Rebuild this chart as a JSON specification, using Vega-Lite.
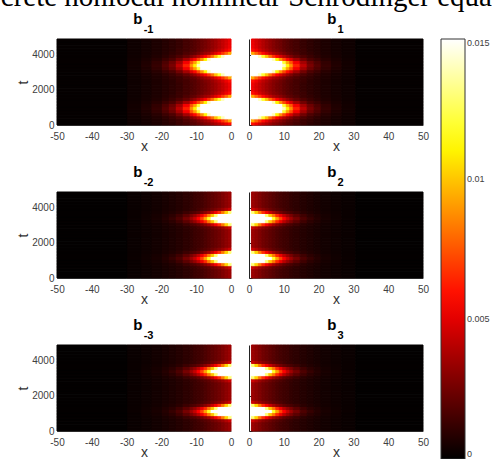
{
  "$schema": "https://vega.github.io/schema/vega-lite/v6.json",
  "background": "white",
  "padding": {"left": 0, "top": -18, "right": 0, "bottom": -1},
  "autosize": {"type": "pad"},
  "title": {"text": "crete nonlocal nonlinear Schrödinger equa", "font": "Liberation Serif", "fontSize": 29, "fontWeight": "normal", "color": "black", "anchor": "start", "frame": "bounds", "offset": 0, "dx": -16},
  "config": {
    "view": {"stroke": null},
    "title": {"font": "Liberation Sans", "fontSize": 15, "fontWeight": "bold", "color": "black", "offset": 0, "subtitleFont": "Liberation Sans", "subtitleFontSize": 11, "subtitleFontWeight": "bold", "subtitleColor": "black", "subtitlePadding": -3},
    "axis": {"grid": false, "ticks": false, "labelFont": "Liberation Sans", "labelFontSize": 10, "labelColor": "#404040", "labelFlush": false, "labelPadding": 3, "titleFont": "Liberation Sans", "titleFontSize": 14, "titleFontWeight": "normal", "titleColor": "#333333", "domainColor": "#555555", "zindex": 1},
    "axisX": {"labelPadding": 6, "titlePadding": -2},
    "axisY": {"titlePadding": 1},
    "legend": {"gradientVerticalMaxLength": 500}
  },
  "datasets": {
    "panels": [
      {"p": "b-1", "s": "L"}, {"p": "b1", "s": "R"},
      {"p": "b-2", "s": "L"}, {"p": "b2", "s": "R"},
      {"p": "b-3", "s": "L"}, {"p": "b3", "s": "R"}
    ],
    "edges": [
      {"s": "L", "x": [0,-1,-2,-3,-4,-5,-6,-7,-8,-9,-10,-11,-12,-14,-16,-18,-20,-23,-26,-30], "x2": [-1,-2,-3,-4,-5,-6,-7,-8,-9,-10,-11,-12,-14,-16,-18,-20,-23,-26,-30,-50]},
      {"s": "R", "x": [0.7,1.7,2.7,3.7,4.7,5.7,6.7,7.7,8.7,9.7,10.7,11.7,12.7,14.7,16.7,18.7,20.7,23.7,26.7,30.7], "x2": [1.7,2.7,3.7,4.7,5.7,6.7,7.7,8.7,9.7,10.7,11.7,12.7,14.7,16.7,18.7,20.7,23.7,26.7,30.7,50]}
    ],
    "profiles": [
      {"q": "a0", "v": [0.0052,0.0047,0.0043,0.0039,0.0035,0.0032,0.0029,0.0026,0.0024,0.0021,0.0019,0.0017,0.0015,0.0012,0.001,0.00082,0.00064,0.00047,0.00033,0.0001]},
      {"q": "a1", "v": [0.0053,0.0048,0.0043,0.0039,0.0035,0.0032,0.0029,0.0026,0.0024,0.0021,0.0019,0.0017,0.0015,0.0012,0.001,0.00082,0.00064,0.00047,0.00033,0.0001]},
      {"q": "a2", "v": [0.0059,0.0053,0.0047,0.0042,0.0038,0.0034,0.003,0.0028,0.0025,0.0022,0.0019,0.0018,0.0015,0.0013,0.001,0.00083,0.00064,0.00047,0.00033,0.0001]},
      {"q": "a3", "v": [0.0093,0.0079,0.0068,0.0058,0.005,0.0043,0.0037,0.0034,0.003,0.0026,0.0022,0.002,0.0017,0.0013,0.0011,0.00086,0.00066,0.00048,0.00033,0.0001]},
      {"q": "a4", "v": [0.022,0.018,0.014,0.012,0.0099,0.0081,0.0067,0.0056,0.0047,0.004,0.0033,0.0028,0.0022,0.0017,0.0013,0.00099,0.00073,0.00051,0.00035,0.0001]},
      {"q": "a5", "v": [0.054,0.042,0.033,0.026,0.021,0.017,0.014,0.011,0.0089,0.0072,0.0058,0.0048,0.0036,0.0025,0.0017,0.0013,0.00089,0.00059,0.00038,0.0001]},
      {"q": "a6", "v": [0.095,0.074,0.058,0.046,0.036,0.028,0.022,0.018,0.015,0.012,0.0092,0.0075,0.0054,0.0036,0.0024,0.0017,0.0011,0.00069,0.00042,0.0001]},
      {"q": "a7", "v": [0.115,0.09,0.071,0.056,0.044,0.034,0.027,0.022,0.017,0.014,0.011,0.0088,0.0063,0.0042,0.0027,0.0019,0.0012,0.00074,0.00044,0.0001]},
      {"q": "b0", "v": [0.0034,0.0031,0.0028,0.0025,0.0023,0.0021,0.0019,0.0017,0.0015,0.0014,0.0013,0.0011,0.00098,0.0008,0.00066,0.00054,0.00042,0.00031,0.00022,0.00007]},
      {"q": "b1", "v": [0.0045,0.0039,0.0034,0.003,0.0027,0.0024,0.0021,0.0019,0.0017,0.0015,0.0013,0.0012,0.001,0.00082,0.00067,0.00055,0.00042,0.00031,0.00022,0.00007]},
      {"q": "b2", "v": [0.013,0.0103,0.0083,0.0066,0.0054,0.0044,0.0036,0.003,0.0025,0.0021,0.0018,0.0016,0.0013,0.00095,0.00075,0.00059,0.00044,0.00032,0.00022,0.00007]},
      {"q": "b3", "v": [0.039,0.03,0.023,0.017,0.013,0.01,0.0083,0.0065,0.0052,0.0041,0.0033,0.0027,0.002,0.0014,0.00098,0.00072,0.00051,0.00035,0.00023,0.00007]},
      {"q": "b4", "v": [0.058,0.044,0.034,0.026,0.02,0.015,0.0118,0.0092,0.0071,0.0056,0.0044,0.0035,0.0026,0.0017,0.0012,0.00082,0.00056,0.00037,0.00024,0.00007]}
    ],
    "rows": [
      {"t": 0, "t2": 175, "q": "a2", "ps": ["b-1","b1"]},
      {"t": 175, "t2": 350, "q": "a3", "ps": ["b-1","b1"]},
      {"t": 350, "t2": 525, "q": "a4", "ps": ["b-1","b1"]},
      {"t": 525, "t2": 700, "q": "a5", "ps": ["b-1","b1"]},
      {"t": 700, "t2": 875, "q": "a6", "ps": ["b-1","b1"]},
      {"t": 875, "t2": 1050, "q": "a7", "ps": ["b-1","b1"]},
      {"t": 1050, "t2": 1225, "q": "a6", "ps": ["b-1","b1"]},
      {"t": 1225, "t2": 1400, "q": "a5", "ps": ["b-1","b1"]},
      {"t": 1400, "t2": 1575, "q": "a4", "ps": ["b-1","b1"]},
      {"t": 1575, "t2": 1750, "q": "a3", "ps": ["b-1","b1"]},
      {"t": 1750, "t2": 1925, "q": "a2", "ps": ["b-1","b1"]},
      {"t": 1925, "t2": 2100, "q": "a1", "ps": ["b-1","b1"]},
      {"t": 2100, "t2": 2275, "q": "a0", "ps": ["b-1","b1"]},
      {"t": 2275, "t2": 2450, "q": "a1", "ps": ["b-1","b1"]},
      {"t": 2450, "t2": 2625, "q": "a2", "ps": ["b-1","b1"]},
      {"t": 2625, "t2": 2800, "q": "a3", "ps": ["b-1","b1"]},
      {"t": 2800, "t2": 2975, "q": "a4", "ps": ["b-1","b1"]},
      {"t": 2975, "t2": 3150, "q": "a5", "ps": ["b-1","b1"]},
      {"t": 3150, "t2": 3325, "q": "a6", "ps": ["b-1","b1"]},
      {"t": 3325, "t2": 3500, "q": "a7", "ps": ["b-1","b1"]},
      {"t": 3500, "t2": 3675, "q": "a6", "ps": ["b-1","b1"]},
      {"t": 3675, "t2": 3850, "q": "a5", "ps": ["b-1","b1"]},
      {"t": 3850, "t2": 4025, "q": "a4", "ps": ["b-1","b1"]},
      {"t": 4025, "t2": 4200, "q": "a3", "ps": ["b-1","b1"]},
      {"t": 4200, "t2": 4375, "q": "a2", "ps": ["b-1","b1"]},
      {"t": 4375, "t2": 4550, "q": "a1", "ps": ["b-1","b1"]},
      {"t": 4550, "t2": 4725, "q": "a0", "ps": ["b-1","b1"]},
      {"t": 4725, "t2": 4900, "q": "a0", "ps": ["b-1","b1"]},
      {"t": 0, "t2": 175, "q": "b0", "ps": ["b-2","b2","b-3","b3"]},
      {"t": 175, "t2": 350, "q": "b0", "ps": ["b-2","b2","b-3","b3"]},
      {"t": 350, "t2": 525, "q": "b0", "ps": ["b-2","b2","b-3","b3"]},
      {"t": 525, "t2": 700, "q": "b1", "ps": ["b-2","b2","b-3","b3"]},
      {"t": 700, "t2": 875, "q": "b2", "ps": ["b-2","b2","b-3","b3"]},
      {"t": 875, "t2": 1050, "q": "b3", "ps": ["b-2","b2","b-3","b3"]},
      {"t": 1050, "t2": 1225, "q": "b4", "ps": ["b-2","b2","b-3","b3"]},
      {"t": 1225, "t2": 1400, "q": "b3", "ps": ["b-2","b2","b-3","b3"]},
      {"t": 1400, "t2": 1575, "q": "b2", "ps": ["b-2","b2","b-3","b3"]},
      {"t": 1575, "t2": 1750, "q": "b1", "ps": ["b-2","b2","b-3","b3"]},
      {"t": 1750, "t2": 1925, "q": "b0", "ps": ["b-2","b2","b-3","b3"]},
      {"t": 1925, "t2": 2100, "q": "b0", "ps": ["b-2","b2","b-3","b3"]},
      {"t": 2100, "t2": 2275, "q": "b0", "ps": ["b-2","b2","b-3","b3"]},
      {"t": 2275, "t2": 2450, "q": "b0", "ps": ["b-2","b2","b-3","b3"]},
      {"t": 2450, "t2": 2625, "q": "b0", "ps": ["b-2","b2","b-3","b3"]},
      {"t": 2625, "t2": 2800, "q": "b0", "ps": ["b-2","b2","b-3","b3"]},
      {"t": 2800, "t2": 2975, "q": "b1", "ps": ["b-2","b2","b-3","b3"]},
      {"t": 2975, "t2": 3150, "q": "b2", "ps": ["b-2","b2","b-3","b3"]},
      {"t": 3150, "t2": 3325, "q": "b3", "ps": ["b-2","b2","b-3","b3"]},
      {"t": 3325, "t2": 3500, "q": "b4", "ps": ["b-2","b2","b-3","b3"]},
      {"t": 3500, "t2": 3675, "q": "b3", "ps": ["b-2","b2","b-3","b3"]},
      {"t": 3675, "t2": 3850, "q": "b2", "ps": ["b-2","b2","b-3","b3"]},
      {"t": 3850, "t2": 4025, "q": "b1", "ps": ["b-2","b2","b-3","b3"]},
      {"t": 4025, "t2": 4200, "q": "b0", "ps": ["b-2","b2","b-3","b3"]},
      {"t": 4200, "t2": 4375, "q": "b0", "ps": ["b-2","b2","b-3","b3"]},
      {"t": 4375, "t2": 4550, "q": "b0", "ps": ["b-2","b2","b-3","b3"]},
      {"t": 4550, "t2": 4725, "q": "b0", "ps": ["b-2","b2","b-3","b3"]},
      {"t": 4725, "t2": 4900, "q": "b0", "ps": ["b-2","b2","b-3","b3"]}
    ]
  },
  "data": {"name": "rows"},
  "transform": [
    {"flatten": ["ps"]},
    {"lookup": "ps", "from": {"data": {"name": "panels"}, "key": "p", "fields": ["s"]}},
    {"lookup": "s", "from": {"data": {"name": "edges"}, "key": "s", "fields": ["x", "x2"]}},
    {"lookup": "q", "from": {"data": {"name": "profiles"}, "key": "q", "fields": ["v", "v"]}, "as": ["v", "w"]},
    {"flatten": ["x", "x2", "v", "w"]}
  ],
  "resolve": {"scale": {"color": "shared", "stroke": "shared"}, "legend": {"color": "shared"}},
  "spacing": 11,
  "vconcat": [
    {"hconcat": [
      {"width": 174, "height": 86, "title": {"text": "b\u00a0\u00a0\u00a0\u200b", "subtitle": "\u200b\u00a0\u00a0\u00a0-1"}, "transform": [{"filter": "datum.ps == 'b-1'"}], "mark": {"type": "rect", "strokeWidth": 1},
       "encoding": {
         "x": {"field": "x", "type": "quantitative", "scale": {"domain": [-50, 0], "nice": false, "zero": false}, "axis": {"values": [-50,-40,-30,-20,-10,0], "title": "x", "labelExpr": "'' + datum.value"}},
         "x2": {"field": "x2"},
         "y": {"field": "t", "type": "quantitative", "scale": {"domain": [0, 4900], "nice": false}, "axis": {"values": [0,2000,4000], "title": "t", "format": "d"}},
         "y2": {"field": "t2"},
         "color": {"field": "v", "type": "quantitative", "scale": {"domain": [0, 0.005625, 0.01125, 0.015], "range": ["#000000","#ff0000","#ffff00","#ffffff"], "interpolate": "rgb", "clamp": true}, "legend": {"type": "gradient", "direction": "vertical", "title": null, "orient": "right", "offset": 12, "gradientLength": 420, "gradientThickness": 24, "values": [0, 0.005, 0.01, 0.015], "labelExpr": "'' + datum.value", "gradientStrokeColor": "#333333", "gradientStrokeWidth": 1, "labelFont": "Liberation Sans", "labelFontSize": 9, "labelColor": "#404040"}},
         "stroke": {"field": "w", "type": "quantitative", "scale": {"domain": [0, 0.0056251, 0.0112501, 0.0150001], "range": ["#000000","#ff0000","#ffff00","#ffffff"], "interpolate": "rgb", "clamp": true}, "legend": null}
       }},
      {"width": 174, "height": 86, "title": {"text": "b\u00a0\u00a0\u200b", "subtitle": "\u200b\u00a0\u00a0\u00a01"}, "transform": [{"filter": "datum.ps == 'b1'"}], "mark": {"type": "rect", "strokeWidth": 1},
       "encoding": {
         "x": {"field": "x", "type": "quantitative", "scale": {"domain": [0, 50], "nice": false, "zero": false}, "axis": {"values": [0,10,20,30,40,50], "title": "x"}},
         "x2": {"field": "x2"},
         "y": {"field": "t", "type": "quantitative", "scale": {"domain": [0, 4900], "nice": false}, "axis": {"values": [0,2000,4000], "title": null, "labels": false, "ticks": true, "tickSize": -3, "tickColor": "#222222", "domainColor": "#222222"}},
         "y2": {"field": "t2"},
         "color": {"field": "v", "type": "quantitative", "legend": {"type": "gradient"}},
         "stroke": {"field": "w", "type": "quantitative", "legend": null}
       }}
    ], "spacing": 12},
    {"hconcat": [
      {"width": 174, "height": 86, "title": {"text": "b\u00a0\u00a0\u00a0\u200b", "subtitle": "\u200b\u00a0\u00a0\u00a0-2"}, "transform": [{"filter": "datum.ps == 'b-2'"}], "mark": {"type": "rect", "strokeWidth": 1},
       "encoding": {
         "x": {"field": "x", "type": "quantitative", "scale": {"domain": [-50, 0], "nice": false, "zero": false}, "axis": {"values": [-50,-40,-30,-20,-10,0], "title": "x", "labelExpr": "'' + datum.value"}},
         "x2": {"field": "x2"},
         "y": {"field": "t", "type": "quantitative", "scale": {"domain": [0, 4900], "nice": false}, "axis": {"values": [0,2000,4000], "title": "t", "format": "d"}},
         "y2": {"field": "t2"},
         "color": {"field": "v", "type": "quantitative", "legend": {"type": "gradient"}},
         "stroke": {"field": "w", "type": "quantitative", "legend": null}
       }},
      {"width": 174, "height": 86, "title": {"text": "b\u00a0\u00a0\u200b", "subtitle": "\u200b\u00a0\u00a0\u00a02"}, "transform": [{"filter": "datum.ps == 'b2'"}], "mark": {"type": "rect", "strokeWidth": 1},
       "encoding": {
         "x": {"field": "x", "type": "quantitative", "scale": {"domain": [0, 50], "nice": false, "zero": false}, "axis": {"values": [0,10,20,30,40,50], "title": "x"}},
         "x2": {"field": "x2"},
         "y": {"field": "t", "type": "quantitative", "scale": {"domain": [0, 4900], "nice": false}, "axis": {"values": [0,2000,4000], "title": null, "labels": false, "ticks": true, "tickSize": -3, "tickColor": "#222222", "domainColor": "#222222"}},
         "y2": {"field": "t2"},
         "color": {"field": "v", "type": "quantitative", "legend": {"type": "gradient"}},
         "stroke": {"field": "w", "type": "quantitative", "legend": null}
       }}
    ], "spacing": 12},
    {"hconcat": [
      {"width": 174, "height": 86, "title": {"text": "b\u00a0\u00a0\u00a0\u200b", "subtitle": "\u200b\u00a0\u00a0\u00a0-3"}, "transform": [{"filter": "datum.ps == 'b-3'"}], "mark": {"type": "rect", "strokeWidth": 1},
       "encoding": {
         "x": {"field": "x", "type": "quantitative", "scale": {"domain": [-50, 0], "nice": false, "zero": false}, "axis": {"values": [-50,-40,-30,-20,-10,0], "title": "x", "labelExpr": "'' + datum.value"}},
         "x2": {"field": "x2"},
         "y": {"field": "t", "type": "quantitative", "scale": {"domain": [0, 4900], "nice": false}, "axis": {"values": [0,2000,4000], "title": "t", "format": "d"}},
         "y2": {"field": "t2"},
         "color": {"field": "v", "type": "quantitative", "legend": {"type": "gradient"}},
         "stroke": {"field": "w", "type": "quantitative", "legend": null}
       }},
      {"width": 174, "height": 86, "title": {"text": "b\u00a0\u00a0\u200b", "subtitle": "\u200b\u00a0\u00a0\u00a03"}, "transform": [{"filter": "datum.ps == 'b3'"}], "mark": {"type": "rect", "strokeWidth": 1},
       "encoding": {
         "x": {"field": "x", "type": "quantitative", "scale": {"domain": [0, 50], "nice": false, "zero": false}, "axis": {"values": [0,10,20,30,40,50], "title": "x"}},
         "x2": {"field": "x2"},
         "y": {"field": "t", "type": "quantitative", "scale": {"domain": [0, 4900], "nice": false}, "axis": {"values": [0,2000,4000], "title": null, "labels": false, "ticks": true, "tickSize": -3, "tickColor": "#222222", "domainColor": "#222222"}},
         "y2": {"field": "t2"},
         "color": {"field": "v", "type": "quantitative", "legend": {"type": "gradient"}},
         "stroke": {"field": "w", "type": "quantitative", "legend": null}
       }}
    ], "spacing": 12}
  ]
}
